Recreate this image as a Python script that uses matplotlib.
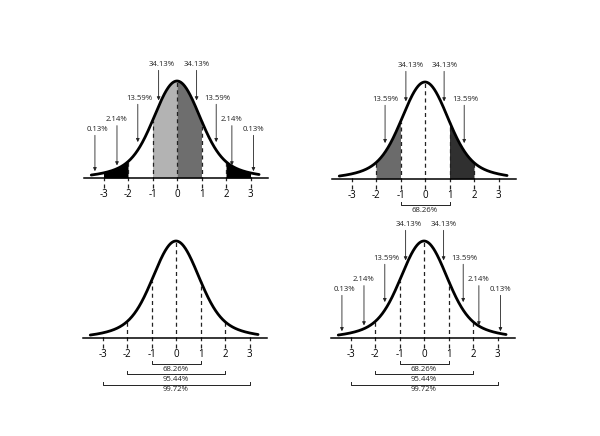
import numpy as np
import matplotlib
matplotlib.use('Agg')
import matplotlib.pyplot as plt

plt.rcParams['font.family'] = ['Open Sans', 'DejaVu Sans']

# datos de las cuatro curvas
ticks = [-3, -2, -1, 0, 1, 2, 3]
tick_labels = ['-3', '-2', '-1', '0', '1', '2', '3']

pct_labels = ['0.13%', '2.14%', '13.59%', '34.13%', '34.13%', '13.59%', '2.14%', '0.13%']
pct_arrow_x = [-3.35, -2.45, -1.6, -0.75, 0.8, 1.6, 2.24, 3.12]
pct_text_x = [-3.25, -2.45, -1.55, -0.62, 0.82, 1.64, 2.24, 3.12]
pct_text_y = [0.50, 0.60, 0.82, 1.17, 1.17, 0.82, 0.60, 0.50]
pct_tip_y = [0.07, 0.13, 0.37, 0.80, 0.80, 0.37, 0.13, 0.07]

# panel superior derecho: solo flechas centrales
mid_labels = ['13.59%', '34.13%', '34.13%', '13.59%']
mid_arrow_x = [-1.63, -0.78, 0.78, 1.6]
mid_text_x = [-1.6, -0.6, 0.8, 1.64]
mid_text_y = [0.82, 1.17, 1.17, 0.82]
mid_tip_y = [0.37, 0.80, 0.80, 0.37]

bracket_labels = ['68.26%', '95.44%', '99.72%']
bracket_half = [1, 2, 3]
bracket_y = [-0.27, -0.375, -0.48]

bands_tl = [(-3, -2, 'black'), (-1, 0, '#b3b3b3'), (0, 1, '#6e6e6e'), (2, 3, 'black')]
bands_tr = [(-2, -1, '#6b6b6b'), (1, 2, '#303030')]

# forma de la campana (cola algo mas ancha que la normal)
peso, s1, s2 = 0.8, 0.88, 1.8


def curva(x):
    x = np.asarray(x, dtype=float)
    return peso * np.exp(-x ** 2 / (2 * s1 ** 2)) + (1 - peso) * np.exp(-x ** 2 / (2 * s2 ** 2))


fig = plt.figure(figsize=(6, 4.36), dpi=100)
W, H = 600, 436
ux, uy = 24.5, 97.0


def panel(cx, base):
    # ejes con escala fija en pixeles
    left = cx - 4.5 * ux
    ax = fig.add_axes([left / W, 1 - (base + 0.75 * uy) / H, 9 * ux / W, 2.1 * uy / H])
    ax.set_xlim(-4.5, 4.5)
    ax.set_ylim(-0.75, 1.35)
    ax.axis('off')
    return ax


def dibujar(ax, bands):
    x = np.linspace(-3.5, 3.35, 500)
    for a, b, c in bands:
        xs = np.linspace(a, b, 100)
        ax.fill_between(xs, 0, curva(xs), color=c, lw=0)
    for t in ticks:
        ax.plot([t, t], [-0.1, curva(t)], color='#222222', lw=0.9,
                linestyle=(0, (3.2, 2.6)))
    ax.plot(x, curva(x), color='black', lw=2.0, solid_capstyle='round')
    ax.plot([-3.8, 3.7], [0, 0], color='black', lw=1.1)
    for t, lab in zip(ticks, tick_labels):
        ax.text(t, -0.175, lab, ha='center', va='center', fontsize=7)


def flechas(ax, labels, ax_x, tx, ty, tips):
    for lab, xa, xt, yt, yp in zip(labels, ax_x, tx, ty, tips):
        ax.text(xt, yt, lab, ha='center', va='center', fontsize=5.6, color='#222222')
        ax.annotate('', xy=(xa, yp), xytext=(xa, yt - 0.06),
                    arrowprops=dict(arrowstyle='-|>', lw=0.6, color='#222222',
                                    mutation_scale=5, shrinkA=0, shrinkB=0))


def corchetes(ax, n):
    for lab, h, y in list(zip(bracket_labels, bracket_half, bracket_y))[:n]:
        ax.plot([-h, -h, h, h], [y + 0.03, y, y, y + 0.03], color='#222222', lw=0.7)
        ax.text(0, y - 0.05, lab, ha='center', va='center', fontsize=5.6, color='#222222')


ax1 = panel(177, 178)
dibujar(ax1, bands_tl)
flechas(ax1, pct_labels, pct_arrow_x, pct_text_x, pct_text_y, pct_tip_y)

ax2 = panel(425, 179)
dibujar(ax2, bands_tr)
flechas(ax2, mid_labels, mid_arrow_x, mid_text_x, mid_text_y, mid_tip_y)
corchetes(ax2, 1)

ax3 = panel(176, 338)
dibujar(ax3, [])
corchetes(ax3, 3)

ax4 = panel(424, 338)
dibujar(ax4, [])
flechas(ax4, pct_labels, pct_arrow_x, pct_text_x, pct_text_y, pct_tip_y)
corchetes(ax4, 3)

fig.savefig('out.png', dpi=100, facecolor='white')
